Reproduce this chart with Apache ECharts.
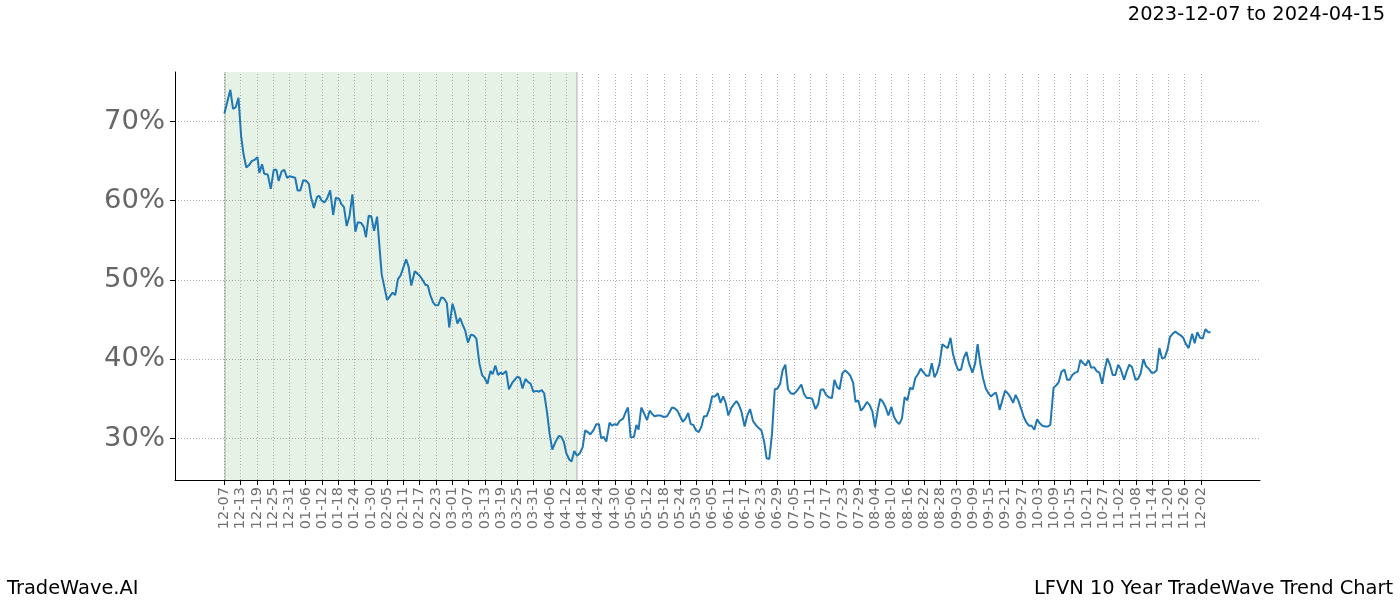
<!DOCTYPE html>
<html>
<head>
<meta charset="utf-8">
<script src="https://cdn.jsdelivr.net/npm/echarts@6/dist/echarts.min.js"></script>
<style>html,body{margin:0;padding:0;background:#fff;}#c{width:1400px;height:600px;}</style>
</head>
<body>
<div id="c"></div>
<script>
// day offsets from 2023-12-07
var days = [0,2.2,3.2,4.2,5.2,6.2,7.1,8.1,9.1,10.1,11.3,12.2,12.9,13.9,14.7,16,17.1,18.2,19.2,20,21.1,22.1,23.1,24.1,25.1,26.1,27,28,29.1,30.2,31.2,31.9,33,34.2,35,35.9,36.9,37.9,39,40.1,41.1,42.4,43.1,44.1,45.1,46.1,47.2,48.3,49.2,50.4,51.4,52.2,53.2,54.2,55.2,56.3,58,60,62,63,64,65,67,67.9,68.9,70.2,71.2,72.1,73.1,74.1,75,75.9,76.9,77.8,78.8,80,80.9,82,82.9,84.1,84.9,85.9,86.9,87.9,88.8,89.8,90.9,91.9,92.9,94,95,96,97,98.1,98.9,99.9,100.9,101.8,102.6,103.9,104.9,106.1,107,108.1,109,109.9,111,112,112.9,113.9,115,116,117,117.9,119,119.9,120.9,122,123.3,124.2,125.1,126.1,127.2,128,129,130,131,132.1,133,134,134.9,136.2,137.1,138.1,138.9,139.8,140.8,142,142.9,143.8,144.8,145.7,147,147.8,148.8,149.8,151,151.9,152.7,153.7,154.7,155.8,156.8,157.7,158.6,159.7,160.7,162,163.2,164.1,165,166,167,168,169,170,171,171.9,172.9,173.9,174.9,175.9,176.8,177.8,178.8,179.8,180.9,181.9,182.9,183.9,184.8,185.8,186.8,187.8,188.8,189.6,190.6,191.8,192.8,193.8,194.9,195.9,197,198,199,199.9,200.9,201.9,202.9,203.9,204.9,205.8,206.8,207.8,208.8,209.8,210.8,211.7,212.7,213.7,214.7,215.7,216.7,217.9,218.9,219.8,220.8,221.8,222.8,224,224.9,225.9,226.8,227.8,228.8,229.8,230.8,231.8,232.7,233.7,234.7,235.7,236.9,237.9,238.9,239.9,240.9,241.8,242.8,243.8,244.8,245.9,246.9,247.9,248.8,249.8,250.8,251.8,252.8,253.8,254.7,255.7,256.7,257.8,258.8,259.8,260.8,261.8,262.7,263.7,264.7,265.7,266.7,267.7,268.6,269.6,270.6,271.6,272.6,273.6,274.5,275.8,276.8,277.7,278.7,279.7,280.7,281.7,282.6,283.6,284.4,284.9,285.8,286.8,287.8,288.8,289.8,290.8,291.7,292.7,293.7,294.7,295.7,296.7,297.6,298.6,299.6,300.6,301.6,302.6,303.5,304.5,305.7,306.7,307.6,308.6,309.7,310.7,311.6,312.6,313.6,314.6,315.6,316.6,317.5,318.6,319.6,320.6,321.6,322.6,323.6,324.5,325.5,326.5,327.5,328.5,329.5,330.4,331.7,332.6,333.6,334.6,335.9,336.8,337.8,338.8,339.8,340.8,341.8,342.7,343.7,344.7,345.7,346.7,347.7,348.6,349.6,350.6,351.6,352.6,353.5,354.5,355.5,356.8,357.7,358.7,359.7,360.7,361.7,362.7,363.6];
var values = [0.710,0.740,0.716,0.718,0.730,0.681,0.658,0.642,0.645,0.650,0.652,0.655,0.635,0.646,0.634,0.633,0.615,0.639,0.639,0.625,0.637,0.639,0.629,0.631,0.630,0.629,0.613,0.613,0.626,0.625,0.621,0.605,0.591,0.605,0.606,0.600,0.598,0.603,0.613,0.582,0.604,0.602,0.596,0.592,0.568,0.580,0.608,0.561,0.573,0.572,0.567,0.554,0.581,0.580,0.562,0.580,0.507,0.4745,0.484,0.481,0.501,0.506,0.526,0.517,0.493,0.511,0.508,0.505,0.500,0.494,0.493,0.481,0.472,0.468,0.468,0.478,0.477,0.471,0.440,0.470,0.461,0.445,0.452,0.443,0.436,0.421,0.431,0.430,0.426,0.395,0.380,0.376,0.369,0.385,0.381,0.392,0.380,0.383,0.381,0.385,0.362,0.370,0.374,0.378,0.376,0.363,0.375,0.371,0.369,0.359,0.360,0.359,0.361,0.357,0.332,0.306,0.286,0.295,0.303,0.302,0.296,0.281,0.273,0.271,0.284,0.278,0.281,0.289,0.310,0.308,0.305,0.311,0.318,0.318,0.300,0.302,0.296,0.320,0.316,0.318,0.317,0.322,0.325,0.332,0.339,0.301,0.302,0.317,0.311,0.339,0.332,0.323,0.335,0.331,0.328,0.329,0.329,0.327,0.328,0.333,0.339,0.338,0.335,0.328,0.321,0.325,0.332,0.318,0.317,0.310,0.308,0.315,0.328,0.328,0.337,0.353,0.353,0.357,0.345,0.353,0.345,0.329,0.338,0.343,0.347,0.343,0.334,0.315,0.329,0.337,0.322,0.317,0.313,0.310,0.296,0.275,0.274,0.306,0.362,0.363,0.369,0.386,0.393,0.362,0.357,0.356,0.359,0.363,0.368,0.356,0.351,0.351,0.350,0.337,0.343,0.361,0.362,0.355,0.352,0.351,0.374,0.365,0.362,0.382,0.386,0.383,0.379,0.370,0.346,0.348,0.335,0.339,0.346,0.342,0.334,0.314,0.336,0.350,0.346,0.339,0.329,0.340,0.327,0.321,0.318,0.325,0.352,0.348,0.364,0.362,0.376,0.381,0.388,0.383,0.379,0.379,0.395,0.377,0.383,0.395,0.419,0.416,0.414,0.427,0.407,0.394,0.386,0.387,0.402,0.409,0.395,0.383,0.395,0.419,0.394,0.376,0.363,0.357,0.353,0.356,0.358,0.352,0.336,0.348,0.360,0.357,0.352,0.345,0.355,0.348,0.338,0.327,0.320,0.316,0.316,0.311,0.324,0.319,0.316,0.315,0.315,0.317,0.364,0.367,0.371,0.384,0.387,0.374,0.374,0.380,0.383,0.384,0.399,0.395,0.392,0.399,0.389,0.390,0.385,0.383,0.369,0.386,0.401,0.393,0.380,0.380,0.393,0.388,0.374,0.384,0.393,0.390,0.374,0.375,0.382,0.400,0.391,0.388,0.383,0.383,0.386,0.414,0.401,0.402,0.412,0.428,0.432,0.435,0.432,0.430,0.427,0.419,0.414,0.432,0.420,0.434,0.427,0.426,0.438,0.434,0.434];
var tickLabels = ['12-07','12-13','12-19','12-25','12-31','01-06','01-12','01-18','01-24','01-30','02-05','02-11','02-17','02-23','03-01','03-07','03-13','03-19','03-25','03-31','04-06','04-12','04-18','04-24','04-30','05-06','05-12','05-18','05-24','05-30','06-05','06-11','06-17','06-23','06-29','07-05','07-11','07-17','07-23','07-29','08-04','08-10','08-16','08-22','08-28','09-03','09-09','09-15','09-21','09-27','10-03','10-09','10-15','10-21','10-27','11-02','11-08','11-14','11-20','11-26','12-02'];
var tickStep = 6;
var yTicks = [0.3, 0.4, 0.5, 0.6, 0.7];
var shade = [0, 130];
var titleText = '2023-12-07 to 2024-04-15';
var leftFoot = 'TradeWave.AI';
var rightFoot = 'LFVN 10 Year TradeWave Trend Chart';

var tickDays = tickLabels.map(function (_, i) { return i * tickStep; });
var seriesData = days.map(function (d, i) { return [d, values[i]]; });
var font = 'DejaVu Sans';
var gridStyle = { color: '#a0a0a0', width: 0.8, type: [1, 2] };

var chart = echarts.init(document.getElementById('c'), null, { renderer: 'canvas' });
chart.setOption({
  animation: false,
  backgroundColor: '#fff',
  title: [
    { text: titleText, right: 10, top: 0, textStyle: { fontFamily: font, fontSize: 19.4, fontWeight: 'normal', color: '#000' } },
    { text: leftFoot, left: 2, bottom: -3, textStyle: { fontFamily: font, fontSize: 19.4, fontWeight: 'normal', color: '#000' } },
    { text: rightFoot, right: 2, bottom: -3, textStyle: { fontFamily: font, fontSize: 19.4, fontWeight: 'normal', color: '#000' } }
  ],
  grid: { left: 175, right: 140, top: 72, bottom: 120, containLabel: false },
  xAxis: {
    type: 'value', min: -18.2, max: 381.8,
    axisLine: { show: true, onZero: false, lineStyle: { color: '#000', width: 1 } },
    axisTick: { show: true, length: 5, lineStyle: { color: '#000' }, customValues: tickDays },
    axisLabel: {
      customValues: tickDays, rotate: 90, fontFamily: font, fontSize: 14.5, color: '#707070', margin: 7,
      formatter: function (v) { var i = Math.round(v / tickStep); return tickLabels[i] || ''; }
    },
    splitLine: { show: false }
  },
  yAxis: {
    type: 'value', min: 0.2475, max: 0.7625,
    axisLine: { show: true, onZero: false, lineStyle: { color: '#000', width: 1 } },
    axisTick: { show: true, length: 5, lineStyle: { color: '#000' }, customValues: yTicks },
    axisLabel: {
      customValues: yTicks, fontFamily: font, fontSize: 27.4, color: '#666', margin: 10,
      formatter: function (v) { return Math.round(v * 100) + '%'; }
    },
    splitLine: { show: true, lineStyle: gridStyle }
  },
  series: [
    {
      type: 'line', data: seriesData, showSymbol: false, symbol: 'none', silent: true,
      lineStyle: { opacity: 0 }, z: 1,
      markArea: { silent: true, itemStyle: { color: 'rgba(0,128,0,0.1)' }, data: [[{ xAxis: shade[0] }, { xAxis: shade[1] }]] },
      markLine: {
        silent: true, symbol: 'none', label: { show: false }, lineStyle: gridStyle,
        data: tickDays.map(function (d) { return { xAxis: d }; }).concat([
          { xAxis: shade[0], lineStyle: { color: 'rgba(120,130,120,0.4)', width: 1.5, type: 'solid' } },
          { xAxis: shade[1], lineStyle: { color: 'rgba(120,130,120,0.4)', width: 1.5, type: 'solid' } }
        ])
      }
    },
    {
      type: 'line', data: seriesData, showSymbol: false, symbol: 'none',
      lineStyle: { color: '#1f77b4', width: 2 }, z: 5
    }
  ]
});
</script>
</body>
</html>
